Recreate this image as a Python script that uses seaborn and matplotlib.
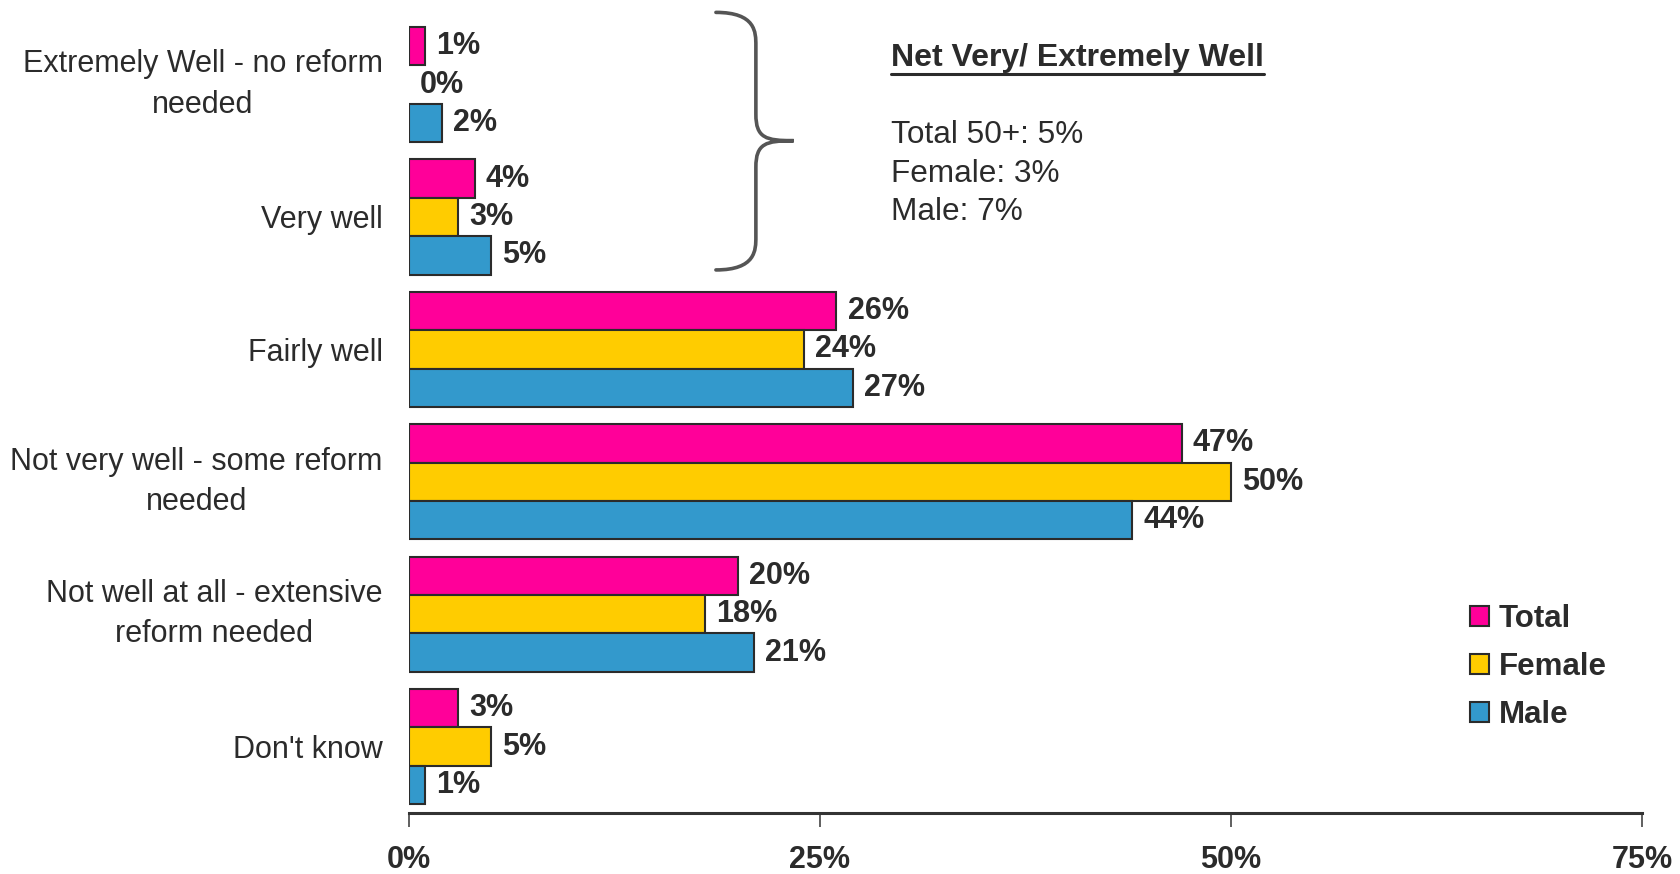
import matplotlib
matplotlib.use("Agg")
import matplotlib.pyplot as plt
from matplotlib.path import Path
from matplotlib.patches import PathPatch, Patch
from matplotlib.lines import Line2D
import seaborn as sns
import pandas as pd

# Survey responses (% of respondents)
categories = [
    "Extremely Well - no reform\nneeded",
    "Very well",
    "Fairly well",
    "Not very well - some reform\nneeded",
    "Not well at all - extensive\nreform needed",
    "Don't know",
]
groups = ["Total", "Female", "Male"]
total_vals = [1, 4, 26, 47, 20, 3]
female_vals = [0, 3, 24, 50, 18, 5]
male_vals = [2, 5, 27, 44, 21, 1]
x_ticks = [0, 25, 50, 75]
x_tick_labels = ["0%", "25%", "50%", "75%"]
net_title = "Net Very/ Extremely Well"
net_lines = ["Total 50+: 5%", "Female: 3%", "Male: 7%"]

colors = {"Total": "#FF0099", "Female": "#FFCC00", "Male": "#3399CC"}
TXT = "#2b2b2b"

df = pd.DataFrame({
    "category": categories * 3,
    "group": [g for g in groups for _ in categories],
    "value": total_vals + female_vals + male_vals,
})

sns.set_theme(style="white")
plt.rcParams["font.family"] = ["Liberation Sans", "DejaVu Sans"]

fig = plt.figure(figsize=(16.81, 8.74), dpi=100)
ax = fig.add_axes([0.2433, 0.070, 0.7335, 0.909])

sns.barplot(
    data=df, y="category", x="value", hue="group",
    order=categories, hue_order=groups, palette=colors,
    orient="h", width=0.87, edgecolor=TXT, linewidth=1.5,
    errorbar=None, legend=False, ax=ax, saturation=1,
)

# zero-length bars are not drawn
for container in ax.containers:
    for patch, v in zip(container.patches, container.datavalues):
        if v == 0:
            patch.set_linewidth(0)

ax.set_xlim(0, 75)
ax.set_ylim(len(categories) - 0.5, -0.5)
ax.set_xlabel("")
ax.set_ylabel("")
ax.set_xticks(x_ticks)
ax.set_xticklabels(x_tick_labels, fontsize=22, fontweight="bold", color=TXT)
ax.tick_params(axis="x", direction="out", length=10, width=1.2, color="#444444",
               pad=13, bottom=True)
ax.tick_params(axis="y", length=0, pad=19)
for lbl in ax.get_yticklabels():
    lbl.set_fontsize(22)
    lbl.set_color(TXT)
    lbl.set_multialignment("center")
    lbl.set_linespacing(1.45)
    if "\n" in lbl.get_text():
        lbl.set_verticalalignment("center")
for side in ["left", "right", "top"]:
    ax.spines[side].set_visible(False)
ax.spines["bottom"].set_color("#333333")
ax.spines["bottom"].set_linewidth(2.2)

# Value labels at the end of each bar
for container in ax.containers:
    ax.bar_label(container, labels=[f"{v:.0f}%" for v in container.datavalues],
                 padding=8, fontsize=22, fontweight="bold", color=TXT)

# Curly brace grouping the two "well" categories
x0, xm, xt = 18.67, 21.1, 23.4
y0, yc, y1 = -0.545, 0.424, 1.40
verts = [
    (x0, y0), (xm, y0), (xm, y0 + 0.15), (xm, y0 + 0.25),
    (xm, yc - 0.2),
    (xm, yc - 0.02), (xm + 0.6, yc), (xt, yc),
    (xm + 0.6, yc), (xm, yc + 0.02), (xm, yc + 0.2),
    (xm, y1 - 0.25),
    (xm, y1 - 0.15), (xm, y1), (x0, y1),
]
codes = [Path.MOVETO, Path.CURVE4, Path.CURVE4, Path.CURVE4,
         Path.LINETO,
         Path.CURVE4, Path.CURVE4, Path.CURVE4,
         Path.CURVE4, Path.CURVE4, Path.CURVE4,
         Path.LINETO,
         Path.CURVE4, Path.CURVE4, Path.CURVE4]
ax.add_patch(PathPatch(Path(verts, codes), facecolor="none", edgecolor="#555555",
                       linewidth=2.6, clip_on=False, capstyle="round"))

# Net summary box
title = fig.text(891 / 1681, 1 - 58 / 874, net_title, fontsize=23, fontweight="bold",
                 color=TXT, ha="left", va="center")
for i, line in enumerate(net_lines):
    fig.text(891 / 1681, 1 - (135 + 38.5 * i) / 874, line, fontsize=22.7,
             color=TXT, ha="left", va="center")
fig.canvas.draw()
bb = title.get_window_extent(renderer=fig.canvas.get_renderer())
uy = (bb.y0 - 1) / fig.bbox.height
fig.add_artist(Line2D([bb.x0 / fig.bbox.width, bb.x1 / fig.bbox.width], [uy, uy],
                      transform=fig.transFigure, color=TXT, linewidth=2.2))

# Legend
handles = [Patch(facecolor=colors[g], edgecolor=TXT, linewidth=1.5, label=g) for g in groups]
leg = fig.legend(handles=handles, loc="upper left", bbox_to_anchor=(1470 / 1681, 1 - 604 / 874),
                 frameon=False, handlelength=0.62, handleheight=0.62, handletextpad=0.3,
                 labelspacing=0.58, borderaxespad=0, borderpad=0,
                 prop={"size": 22.5, "weight": "bold"})
for t in leg.get_texts():
    t.set_color(TXT)

fig.savefig("out.png", dpi=100, facecolor="white")
